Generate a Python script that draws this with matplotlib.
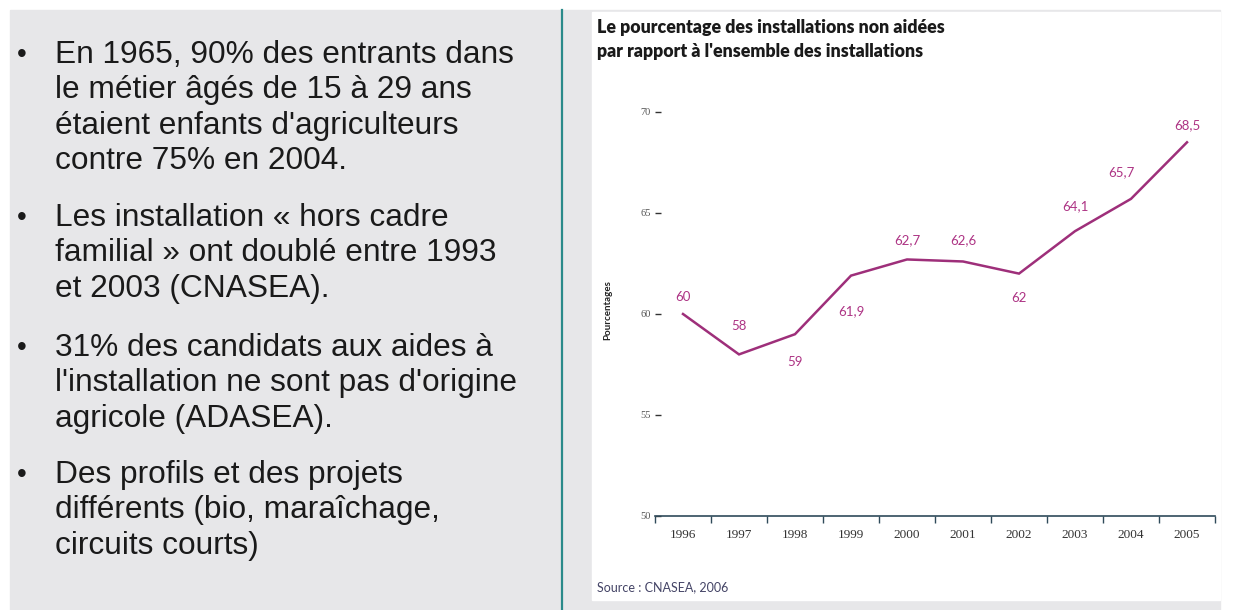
import matplotlib.pyplot as plt
from matplotlib.patches import Rectangle

# ── data ─────────────────────────────────────────────────────────────────────
years = ["1996", "1997", "1998", "1999", "2000", "2001", "2002", "2003", "2004", "2005"]
values = [60, 58, 59, 61.9, 62.7, 62.6, 62, 64.1, 65.7, 68.5]
value_labels = ["60", "58", "59", "61,9", "62,7", "62,6", "62", "64,1", "65,7", "68,5"]
y_ticks = [50, 55, 60, 65, 70]

bullets = [
    "En 1965, 90% des entrants dans\nle métier âgés de 15 à 29 ans\nétaient enfants d'agriculteurs\ncontre 75% en 2004.",
    "Les installation « hors cadre\nfamilial » ont doublé entre 1993\net 2003 (CNASEA).",
    "31% des candidats aux aides à\nl'installation ne sont pas d'origine\nagricole (ADASEA).",
    "Des profils et des projets\ndifférents (bio, maraîchage,\ncircuits courts)",
]

# label offsets in pixels (dx, dy) relative to each point
label_off = [(0, 17), (0, 28), (0, -28), (0, -36), (0, 19), (0, 21), (0, -24), (0, 25), (-10, 27), (0, 17)]

W, H = 1234, 610
fig = plt.figure(figsize=(W / 100, H / 100), dpi=100)
fig.patch.set_facecolor("white")

def px(x, y, w, h):
    # pixel box (top-left origin) -> figure fraction
    return (x / W, 1 - (y + h) / H, w / W, h / H)

# backgrounds
x0, y0, w0, h0 = px(10, 10, 1210, 600)
fig.patches.append(Rectangle((x0, y0), w0, h0, transform=fig.transFigure, color="#e7e7e9", zorder=-2))
x0, y0, w0, h0 = px(592, 12, 628, 588)
fig.patches.append(Rectangle((x0, y0), w0, h0, transform=fig.transFigure, color="white", zorder=-1))
fig.add_artist(plt.Line2D([562 / W, 562 / W], [0, 1 - 10 / H], transform=fig.transFigure, color="#2a8a8a", lw=1.6))

# left bullet text (first-line centre, px from top)
para_mid = [53, 216, 346, 473]
for mid, txt in zip(para_mid, bullets):
    fig.text(22 / W, 1 - (mid + 2) / H, "•", fontsize=20, family="Liberation Sans", ha="center", va="center",
             color="#1a1a1a")
    fig.text(55 / W, 1 - (mid - 13) / H, txt, fontsize=22.8, family="Liberation Sans", va="top",
             linespacing=1.23, color="#1a1a1a")

# chart
ax = fig.add_axes(px(655, 112, 560, 404))
ax.set_zorder(2)
ax.patch.set_alpha(0)
xs = list(range(len(years)))
line_col = "#9e2f7a"
ax.plot(xs, values, color=line_col, lw=1.8, solid_joinstyle="miter")
for x, v, lab, (dx, dy) in zip(xs, values, value_labels, label_off):
    ax.annotate(lab, (x, v), xytext=(dx * 0.72, dy * 0.72), textcoords="offset points",
                ha="center", va="center", fontsize=9.5, color="#ad3384", family="Lato")

ax.set_xlim(-0.5, len(years) - 0.5)
ax.set_ylim(50, 70)
for s in ["top", "right", "left"]:
    ax.spines[s].set_visible(False)
ax.spines["bottom"].set_color("#2f4a5a")
ax.spines["bottom"].set_linewidth(1.2)

ax.set_xticks(xs)
ax.set_xticklabels(years, fontsize=9.5, color="#333333", family="Liberation Serif")
ax.tick_params(axis="x", which="major", length=0, pad=9)
ax.set_xticks([i - 0.5 for i in range(len(years) + 1)], minor=True)
ax.tick_params(axis="x", which="minor", length=5, width=1, color="#2f4a5a", direction="out")

ax.set_yticks(y_ticks)
ax.set_yticklabels([str(t) for t in y_ticks], fontsize=7.5, color="#555555", family="Liberation Serif")
ax.tick_params(axis="y", length=4, width=1, color="#333333", direction="in", pad=3)

fig.text(608 / W, 1 - 310 / H, "Pourcentages", rotation=90, fontsize=7, fontweight="bold",
         ha="center", va="center", family="Lato", color="#222222")

fig.text(597 / W, 1 - 28 / H, "Le pourcentage des installations non aidées", fontsize=12.8,
         fontweight="heavy", family="Lato", va="center", color="#1a1a1a")
fig.text(597 / W, 1 - 51 / H, "par rapport à l'ensemble des installations", fontsize=12.8,
         fontweight="heavy", family="Lato", va="center", color="#1a1a1a")
fig.text(597 / W, 1 - 587 / H, "Source : CNASEA, 2006", fontsize=9, family="Lato",
         va="center", color="#444466")

fig.savefig("out.png", dpi=100)
